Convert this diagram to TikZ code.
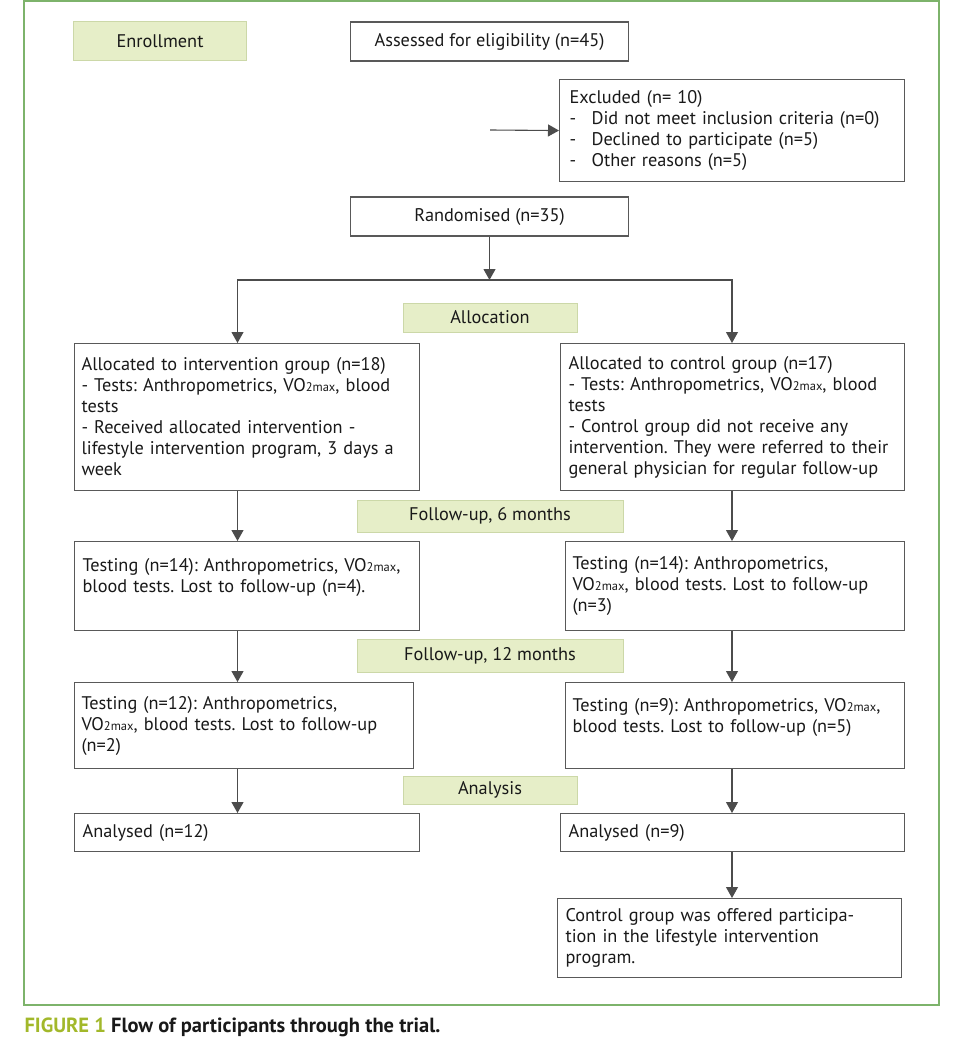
\documentclass[tikz,border=0pt]{standalone}
\usepackage{fontspec}
\setmainfont{PT Sans}
\usepackage{xcolor}
\usetikzlibrary{arrows.meta, positioning, calc}

\definecolor{framegreen}{HTML}{7DB36B}
\definecolor{labelfill}{HTML}{E6EEC8}
\definecolor{labeldraw}{HTML}{CCD8A8}
\definecolor{figgreen}{HTML}{A2B82A}
\newcommand{\vomax}{VO{\fontsize{12.5}{12.5}\selectfont 2max}}
\newcommand{\dashitem}{\makebox[22pt][l]{-}}
\frenchspacing

\begin{document}
\begin{tikzpicture}[x=1pt, y=-1pt,
    every node/.style={font=\fontsize{18.3}{21}\selectfont, text=black!90},
    phase/.style={fill=labelfill, draw=labeldraw, line width=1pt, align=center},
    cbox/.style={draw=black!65, line width=1.1pt, align=center},
    tbox/.style={draw=black!65, line width=1.1pt, anchor=north west, align=left,
        inner xsep=7pt, inner ysep=4pt},
    arr/.style={draw=black!70, line width=1.1pt, -{Triangle[width=12pt, length=11pt]}}]
    \useasboundingbox (0,0) rectangle (960,1062);
    \draw[framegreen, line width=2pt] (24,1) rectangle (939,1005);

    \node[phase, minimum width=173pt, minimum height=39pt] (enrol) at (160,41.5) {Enrollment};
    \node[cbox, minimum width=278pt, minimum height=39pt] (assess) at (489.5,41.5) {Assessed for eligibility (n=45)};
    \node[tbox, text width=325pt, minimum height=102pt, inner xsep=10pt] (excl) at (559,79)
        {Excluded (n= 10)\\ \dashitem Did not meet inclusion criteria (n=0)\\
         \dashitem Declined to participate (n=5)\\ \dashitem Other reasons (n=5)};
    \node[cbox, minimum width=278pt, minimum height=39pt] (rand) at (489.5,216.5) {Randomised (n=35)};

    \node[phase, minimum width=174pt, minimum height=29pt] (alloc) at (490,317.5) {Allocation};
    \node[tbox, text width=331pt, minimum height=147pt] (intv) at (74,343)
        {Allocated to intervention group (n=18)\\ - Tests: Anthropometrics, \vomax, blood\\ tests\\
         - Received allocated intervention -\\ lifestyle intervention program, 3 days a\\ week};
    \node[tbox, text width=328pt, minimum height=147pt, inner xsep=8pt] (ctrl) at (560,343)
        {Allocated to control group (n=17)\\ - Tests: Anthropometrics, \vomax, blood\\ tests\\
         - Control group did not receive any\\ intervention. They were referred to their\\
         general physician for regular follow-up};

    \node[phase, minimum width=266pt, minimum height=32pt] (fu6) at (490,516) {Follow-up, 6 months};
    \node[tbox, text width=329pt, minimum height=89pt, inner xsep=8pt] (t6a) at (74,541)
        {Testing (n=14): Anthropometrics, \vomax,\\ blood tests. Lost to follow-up (n=4).\\ \mbox{}};
    \node[tbox, text width=325pt, minimum height=89pt] (t6b) at (565,541)
        {Testing (n=14): Anthropometrics,\\ \vomax, blood tests. Lost to follow-up\\ (n=3)};

    \node[phase, minimum width=266pt, minimum height=33pt] (fu12) at (490,655.5) {Follow-up, 12 months};
    \node[tbox, text width=325pt, minimum height=86pt] (t12a) at (74,682)
        {Testing (n=12): Anthropometrics,\\ \vomax, blood tests. Lost to follow-up\\ (n=2)};
    \node[tbox, text width=325pt, minimum height=86pt] (t12b) at (565,682)
        {Testing (n=9): Anthropometrics, \vomax,\\ blood tests. Lost to follow-up (n=5)\\ \mbox{}};

    \node[phase, minimum width=174pt, minimum height=28pt] (anl) at (490,790) {Analysis};
    \node[tbox, text width=329pt, minimum height=38pt, inner xsep=8pt] (ana) at (74,813) {Analysed (n=12)};
    \node[tbox, text width=328pt, minimum height=38pt, inner xsep=8pt] (anb) at (560,813) {Analysed (n=9)};
    \node[tbox, text width=328pt, minimum height=79pt, inner xsep=8pt] (offer) at (557,898)
        {Control group was offered participa-\\ tion in the lifestyle intervention\\ program.};

    \node[anchor=west, font=\fontsize{20.5}{22}\selectfont\bfseries, text=black!90] (cap) at (21,1027)
        {{\color{figgreen}FIGURE 1} Flow of participants through the trial.};

    \coordinate (colL) at (237.5,0);
    \coordinate (colR) at (732,0);
    \coordinate (split) at (489.5,280);
    \coordinate (exin) at (490,130);

    \draw[arr] (exin) -- (excl.west);
    \draw[arr] (rand.south) -- (split);
    \draw[arr] (split) -| (intv.north -| colL);
    \draw[arr] (split) -| (ctrl.north -| colR);
    \draw[arr] (intv.south -| colL) -- (t6a.north -| colL);
    \draw[arr] (ctrl.south -| colR) -- (t6b.north -| colR);
    \draw[arr] (t6a.south -| colL) -- (t12a.north -| colL);
    \draw[arr] (t6b.south -| colR) -- (t12b.north -| colR);
    \draw[arr] (t12a.south -| colL) -- (ana.north -| colL);
    \draw[arr] (t12b.south -| colR) -- (anb.north -| colR);
    \draw[arr] (anb.south -| colR) -- (offer.north -| colR);
\end{tikzpicture}
\end{document}
